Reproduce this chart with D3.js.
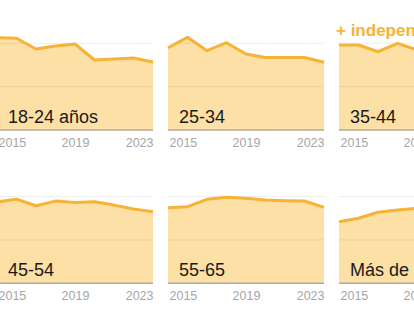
<!DOCTYPE html>
<html>
<head>
<meta charset="utf-8">
<script src="https://cdn.jsdelivr.net/npm/d3@7"></script>
<style>
	body { margin: 0; background: #fff; }
	#chart { width: 414px; height: 311px; overflow: hidden; }
	text { font-family: "Liberation Sans", Arial, sans-serif; }
</style>
</head>
<body>
<div id="chart"></div>
<script>
// data (index, 100 = upper gridline)
var years = [2015, 2016, 2017, 2018, 2019, 2020, 2021, 2022, 2023];
var tickYears = [2015, 2019, 2023];
var gridValues = [0, 50, 100];
var groups = ["18-24 años", "25-34", "35-44", "45-54", "55-65", "Más de 65"];
var v18_24 = [106.5, 105.8, 93.4, 96.9, 99.2, 80.7, 81.8, 83.0, 78.4];
var v25_34 = [94.9, 106.9, 91.5, 100.7, 87.6, 83.7, 83.7, 83.7, 78.1];
var v35_44 = [98.0, 98.0, 90.3, 100.0, 92.3, 90.0, 89.0, 88.0, 85.0];
var v45_54 = [93.7, 97.1, 89.4, 94.8, 93.3, 94.0, 90.2, 85.6, 82.5];
var v55_65 = [87.2, 88.4, 96.9, 99.2, 98.1, 96.1, 95.3, 94.9, 87.6];
var vMas65 = [71.1, 75.0, 81.9, 84.5, 86.5, 88.0, 89.0, 89.0, 88.0];
var series = [v18_24, v25_34, v35_44, v45_54, v55_65, vMas65];
var annotation = "+ independientes";

var W = 414, H = 311;
var panelW = 156; // width of one small multiple
var panelStep = 171; // panel width + gap
var firstLeft = -3; // first column starts a bit off the left edge
var baselines = [130, 283.3]; // y of the x axis on each row
var plotH = 86.7; // height from 0 to 100

var svg = d3.select("#chart").append("svg")
	.attr("width", W).attr("height", H);

for (var i = 0; i < groups.length; i++) {
	var col = i % 3;
	var row = Math.floor(i / 3);
	var left = firstLeft + col * panelStep;
	var base = baselines[row];
	var vals = series[i];

	var x = d3.scaleLinear().domain([years[0], years[years.length - 1]])
			.range([left, left + panelW]);
	var y = d3.scaleLinear().domain([0, 100]).range([base, base - plotH]);

	var g = svg.append("g").attr("class", "panel");

	var pts = years.map(function(yr, k) {
		return { year: yr, value: vals[k] };
	});

	// filled area
	var area = d3.area().x(function(d) { return x(d.year); })
			.y0(y(0)).y1(function(d) { return y(d.value); });
	g.append("path").datum(pts).attr("d", area)
			.attr("fill", "#fde0a6");

	// gridlines (drawn on top, very faint)
	g.selectAll("line.grid").data(gridValues.slice(1)).enter().append("line")
			.attr("class", "grid")
			.attr("x1", left).attr("x2", left + panelW)
			.attr("y1", function(d) { return y(d); })
			.attr("y2", function(d) { return y(d); })
			.attr("stroke", "rgba(0,0,0,0.07)").attr("stroke-width", 1);

	// line on top of the area
	var line = d3.line().x(function(d) { return x(d.year); })
			.y(function(d) { return y(d.value); });
	g.append("path").datum(pts).attr("d", line)
			.attr("fill", "none").attr("stroke", "#f6b336")
			.attr("stroke-width", 3).attr("stroke-linejoin", "round");

	// base line
	g.append("line").attr("x1", left).attr("x2", left + panelW)
			.attr("y1", y(0)).attr("y2", y(0))
			.attr("stroke", "#b0aaa0").attr("stroke-width", 1.5);

	// x axis ticks: first left-aligned, last right-aligned
	var axis = d3.axisBottom(x).tickValues(tickYears).tickSize(0)
			.tickPadding(0).tickFormat(d3.format("d"));
	var ag = g.append("g").attr("transform", "translate(0," + (base + 17) + ")")
			.call(axis);
	ag.select(".domain").remove();
	ag.selectAll("text")
			.attr("dy", null).attr("y", 0)
			.attr("fill", "#a6a6a6").style("font-size", "12.5px")
			.style("font-family", "'Liberation Sans', Arial, sans-serif")
			.attr("text-anchor", function(d, k) {
				if (k == 0) return "start";
				if (k == tickYears.length - 1) return "end";
				return "middle";
			})
			.attr("x", function(d, k) {
				if (k == 0) return 1;
				return 0;
			});

	// group label
	g.append("text").attr("x", left + 11).attr("y", base - 7)
			.attr("fill", "#1a1a1a").style("font-size", "18px")
			.text(groups[i]);
}

// annotation above the third panel
svg.append("text").attr("x", firstLeft + 2 * panelStep - 3).attr("y", 35.7)
		.attr("fill", "#f6b336").style("font-size", "17px")
		.style("font-weight", "bold").text(annotation);
</script>
</body>
</html>
